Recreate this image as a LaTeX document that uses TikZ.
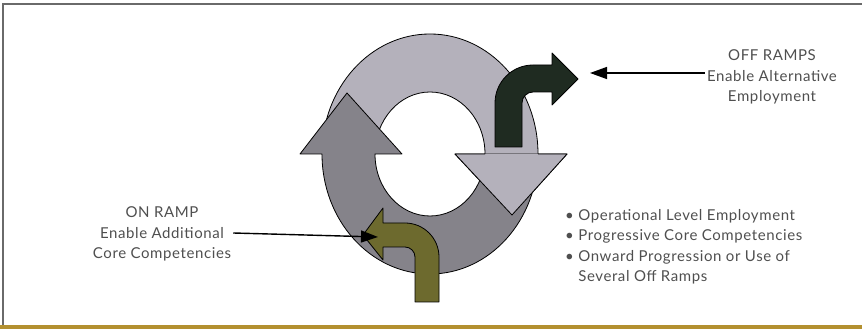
\documentclass[tikz,border=0pt]{standalone}
\usepackage{fontspec}
\setmainfont[LetterSpace=4]{Lato}
\usetikzlibrary{arrows.meta}
\definecolor{ringlight}{HTML}{B4B1BB}
\definecolor{ringdark}{HTML}{85838A}
\definecolor{rampgreen}{HTML}{1F2B21}
\definecolor{rampolive}{HTML}{6D6A2E}
\definecolor{ink}{HTML}{4F4F4F}
\definecolor{framegray}{HTML}{6A6A6A}
\definecolor{bandgold}{HTML}{B3902F}

\begin{document}
\begin{tikzpicture}[x=1pt, y=1pt,
  font=\fontsize{15}{20.5}\selectfont,
  lbl/.style={align=center, text=ink, inner sep=2pt},
  ringpart/.style={draw=black, line width=0.8pt, line join=round},
  ramp/.style={draw=black, line width=0.8pt, line join=round},
  pointer/.style={-{Triangle[length=17pt, width=12pt]}, line width=1.4pt},
]
\useasboundingbox (0,0) rectangle (862,329);

% frame
\fill[bandgold] (0,0) rectangle (862,4);
\draw[framegray, line width=2pt] (3,4) -- (3,325) -- (862,325);

% upper half of the ring, ends in the down arrow
\path[ringpart, fill=ringlight] (322,175)
  arc[start angle=180, end angle=0, x radius=108, y radius=120]
  -- (567,175) -- (512,114) -- (455,175) -- (485,175)
  arc[start angle=0, end angle=180, x radius=55, y radius=62] -- cycle;

% lower half of the ring, ends in the up arrow
\path[ringpart, fill=ringdark] (538,175)
  arc[start angle=0, end angle=-180, x radius=108, y radius=120]
  -- (300,175) -- (347,236) -- (402,175) -- (375,175)
  arc[start angle=180, end angle=360, x radius=55, y radius=62] -- cycle;

% down arrow head again on top
\fill[ringlight] (455,175) -- (512,114) -- (567,175) -- cycle;
\draw[ringpart] (485,175) -- (455,175) -- (512,114) -- (567,175) -- (538,175);

% off ramp
\path[ramp, fill=rampgreen] (495,182) -- (495,226)
  arc[start angle=180, end angle=90, radius=38]
  -- (552,264) -- (552,276) -- (578,250) -- (552,224) -- (552,237) -- (533,237)
  arc[start angle=90, end angle=180, radius=11] -- (522,182) -- cycle;

% on ramp
\path[ramp, fill=rampolive] (415,27) -- (415,72)
  arc[start angle=0, end angle=90, radius=10]
  -- (383,82) -- (383,69) -- (363,94) -- (383,121) -- (383,106) -- (405,106)
  arc[start angle=90, end angle=0, radius=34] -- (439,27) -- cycle;

% labels
\node[lbl] (offtext) at (772,252) {OFF RAMPS\\Enable Alternative\\Employment};
\node[lbl] (ontext) at (162,95) {ON RAMP\\Enable Additional\\Core Competencies};
\node[lbl, align=left, anchor=north west] (bullets) at (563,122)
  {\textbullet\ Operational Level Employment\\
   \textbullet\ Progressive Core Competencies\\
   \textbullet\ Onward Progression or Use of\\
   \hphantom{\textbullet\ }Several Off Ramps};

\coordinate (offtip) at (590,256);
\coordinate (ontip) at (378,92);
\draw[pointer] ([yshift=4pt]offtext.west) -- (offtip);
\draw[pointer] ([yshift=1pt]ontext.east) -- (ontip);
\end{tikzpicture}
\end{document}
